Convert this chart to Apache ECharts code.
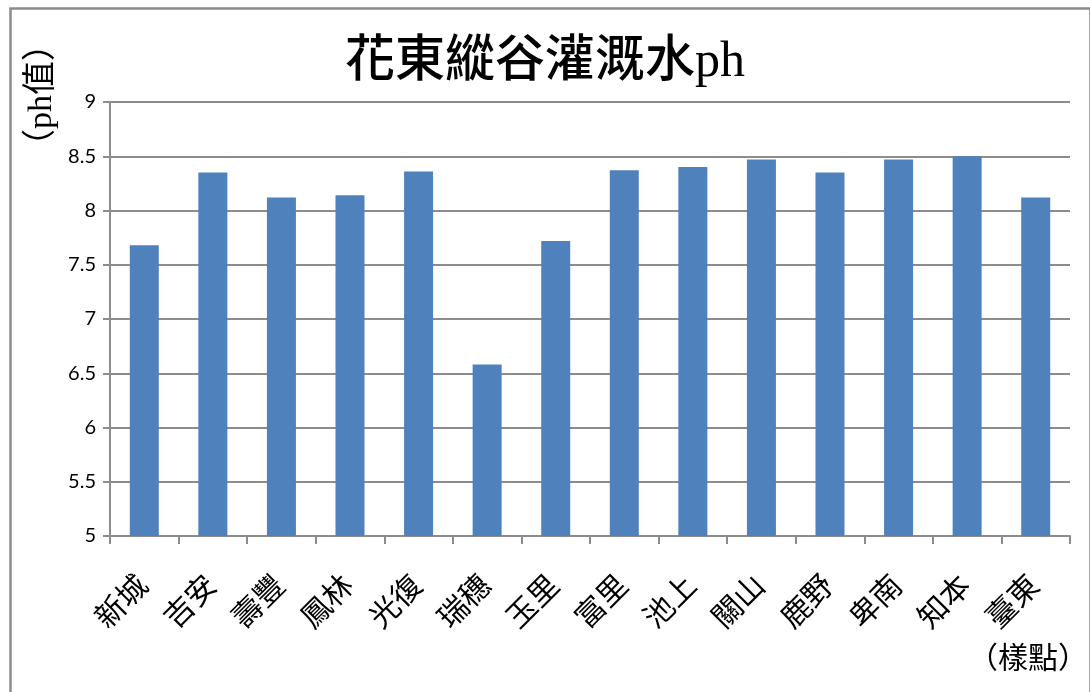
<!DOCTYPE html>
<html>
<head>
<meta charset="UTF-8">
<title>花東縱谷灌溉水ph</title>
<script src="https://cdn.jsdelivr.net/npm/echarts@6/dist/echarts.min.js"></script>
<style>
  html, body { margin: 0; padding: 0; background: #fff; }
  #container { width: 1090px; height: 692px; }
</style>
</head>
<body>
<div id="container"></div>
<script type="text/javascript">
// 樣點與ph值
var sites = ['新城', '吉安', '壽豐', '鳳林', '光復', '瑞穗', '玉里', '富里', '池上', '關山', '鹿野', '卑南', '知本', '臺東'];
var phValues = [7.68, 8.35, 8.12, 8.14, 8.36, 6.58, 7.72, 8.37, 8.40, 8.47, 8.35, 8.47, 8.50, 8.12];
var yTicks = [5, 5.5, 6, 6.5, 7, 7.5, 8, 8.5, 9];

var cjk = '"Liberation Serif", "Noto Sans CJK TC", serif';
var gray = '#8c8c8c';

var dom = document.getElementById('container');
var myChart = echarts.init(dom);
var option = {
    animation: false,
    title: {
        text: '花東縱谷灌溉水ph',
        left: 'center',
        top: 33,
        textStyle: { fontFamily: cjk, fontSize: 50, fontWeight: 500, color: '#000' }
    },
    grid: { left: 110, right: 20, top: 102, bottom: 156 },
    xAxis: {
        type: 'category',
        data: sites,
        axisLine: { lineStyle: { color: gray, width: 2 } },
        axisTick: { show: true, length: 8, lineStyle: { color: gray, width: 2 } },
        axisLabel: {
            interval: 0,
            rotate: 45,
            margin: 46,
            fontSize: 30,
            fontFamily: cjk,
            color: '#000'
        }
    },
    yAxis: {
        type: 'value',
        min: yTicks[0],
        max: yTicks[yTicks.length - 1],
        interval: 0.5,
        axisLine: { show: true, lineStyle: { color: gray, width: 2 } },
        axisTick: { show: true, length: 7, lineStyle: { color: gray, width: 2 } },
        axisLabel: {
            margin: 14,
            fontSize: 20,
            fontFamily: 'Lato, "Open Sans", sans-serif',
            color: '#000',
            formatter: function (v) { return String(v); }
        },
        splitLine: { lineStyle: { color: gray, width: 2 } }
    },
    series: [{
        type: 'bar',
        data: phValues,
        barWidth: 29,
        itemStyle: { color: '#4f81bd' }
    }],
    graphic: [
        {
            type: 'rect',
            left: 8, top: 6,
            shape: { width: 1080, height: 700 },
            style: { fill: 'none', stroke: gray, lineWidth: 2.5 },
            z: -1
        },
        {
            type: 'text',
            x: 42, y: 95,
            rotation: Math.PI / 2,
            style: {
                text: '（ph值）',
                font: '34px ' + cjk,
                fill: '#000',
                align: 'center',
                verticalAlign: 'middle'
            }
        },
        {
            type: 'text',
            x: 1028, y: 660,
            style: {
                text: '（樣點）',
                font: '30px ' + cjk,
                fill: '#000',
                align: 'center',
                verticalAlign: 'middle'
            }
        }
    ]
};
myChart.setOption(option);
</script>
</body>
</html>
